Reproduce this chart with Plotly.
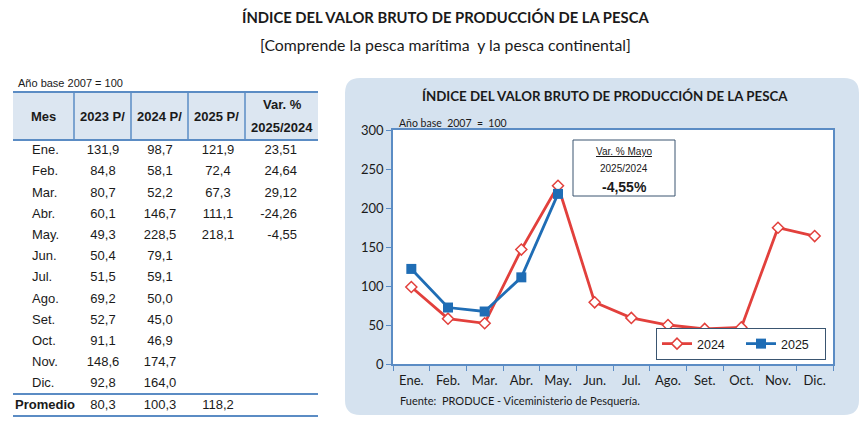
import plotly.graph_objects as go

# datos del cuadro (Año base 2007 = 100)
meses = ["Ene.", "Feb.", "Mar.", "Abr.", "May.", "Jun.", "Jul.", "Ago.", "Set.", "Oct.", "Nov.", "Dic."]
v2023 = [131.9, 84.8, 80.7, 60.1, 49.3, 50.4, 51.5, 69.2, 52.7, 91.1, 148.6, 92.8]
v2024 = [98.7, 58.1, 52.2, 146.7, 228.5, 79.1, 59.1, 50.0, 45.0, 46.9, 174.7, 164.0]
v2025 = [121.9, 72.4, 67.3, 111.1, 218.1]
var_25_24 = [23.51, 24.64, 29.12, -24.26, -4.55]
promedio = [80.3, 100.3, 118.2]
encabezado = ["Mes", "2023 P/", "2024 P/", "2025 P/"]
var_mayo = -4.55

W, H = 867, 432
OFF = 8  # margen del body de la pagina
ROJO = "#e2403c"
AZUL = "#1f6db5"
LINEA_TABLA = "#5b8cc4"
TXT = "#1a1a1a"
ARIAL = "Liberation Sans, Arial, sans-serif"
CALIBRI = "Lato, Carlito, Calibri, sans-serif"


def px(x):
    return (x - OFF) / W


def py(y):
    return 1 - (y - OFF) / H


def fmt(v, d=1):
    return f"{v:.{d}f}".replace(".", ",")


def caja_redondeada(x0, y0, x1, y1, r):
    rx, ry = r / W, r / H
    a0, a1, b0, b1 = px(x0), px(x1), py(y1), py(y0)
    return (f"M {a0 + rx},{b0} L {a1 - rx},{b0} Q {a1},{b0} {a1},{b0 + ry} "
            f"L {a1},{b1 - ry} Q {a1},{b1} {a1 - rx},{b1} "
            f"L {a0 + rx},{b1} Q {a0},{b1} {a0},{b1 - ry} "
            f"L {a0},{b0 + ry} Q {a0},{b0} {a0 + rx},{b0} Z")


fig = go.Figure()

# ---- grafico ----
fig.add_trace(go.Scatter(
    x=meses, y=v2024, name="2024", mode="lines+markers",
    line=dict(color=ROJO, width=2.8),
    marker=dict(symbol="diamond", size=8.5, color="white", line=dict(color=ROJO, width=1.5)),
))
fig.add_trace(go.Scatter(
    x=meses[:len(v2025)], y=v2025, name="2025", mode="lines+markers",
    line=dict(color=AZUL, width=2.8),
    marker=dict(symbol="square", size=10, color=AZUL),
))

# ---- tabla (ejes invisibles) ----
filas = meses + ["Promedio"]
tabla = dict(xaxis="x2", yaxis="y2", mode="text", showlegend=False, hoverinfo="skip",
             textfont=dict(family=ARIAL, size=13, color=TXT))
fig.add_trace(go.Scatter(x=[32] * len(meses), y=meses, text=meses, textposition="middle right", **tabla))
fig.add_trace(go.Scatter(x=[103] * len(meses), y=meses, text=[fmt(v) for v in v2023], textposition="middle center", **tabla))
fig.add_trace(go.Scatter(x=[160] * len(meses), y=meses, text=[fmt(v) for v in v2024], textposition="middle center", **tabla))
fig.add_trace(go.Scatter(x=[218] * len(v2025), y=meses[:len(v2025)], text=[fmt(v) for v in v2025], textposition="middle center", **tabla))
fig.add_trace(go.Scatter(x=[297] * len(var_25_24), y=meses[:len(var_25_24)], text=[fmt(v, 2) for v in var_25_24], textposition="middle left", **tabla))
fig.add_trace(go.Scatter(x=[15], y=["Promedio"], text=["<b>Promedio</b>"], textposition="middle right", **tabla))
fig.add_trace(go.Scatter(x=[103, 160, 218], y=["Promedio"] * 3, text=[fmt(v) for v in promedio], textposition="middle center", **tabla))

shapes = [
    dict(type="path", path=caja_redondeada(345, 78, 859, 415, 15), xref="paper", yref="paper",
         fillcolor="#d5e2ef", line=dict(width=0), layer="below"),
    dict(type="rect", xref="paper", yref="paper", x0=px(393), x1=px(833), y0=py(364), y1=py(130),
         fillcolor="white", line=dict(width=0), layer="below"),
    dict(type="rect", xref="paper", yref="paper", x0=px(13), x1=px(318), y0=py(140), y1=py(92),
         fillcolor="#dce6f1", line=dict(width=0), layer="below"),
    dict(type="rect", xref="paper", yref="paper", x0=px(573), x1=px(675), y0=py(196), y1=py(140),
         fillcolor="white", line=dict(color="#3a5570", width=1)),
]
for yl in [92, 140, 394, 416]:
    shapes.append(dict(type="line", xref="paper", yref="paper", x0=px(13), x1=px(318), y0=py(yl), y1=py(yl),
                       line=dict(color=LINEA_TABLA, width=2)))
for xl in [74, 131, 188, 245]:
    shapes.append(dict(type="line", xref="paper", yref="paper", x0=px(xl), x1=px(xl), y0=py(140), y1=py(92),
                       line=dict(color=LINEA_TABLA, width=1.5)))

annotations = [
    dict(text="<b>ÍNDICE DEL VALOR BRUTO DE PRODUCCIÓN DE LA PESCA</b>", x=px(445), y=py(17),
         font=dict(family=CALIBRI, size=14.8, color=TXT)),
    dict(text="[Comprende la pesca marítima  y la pesca continental]", x=px(445), y=py(44),
         font=dict(family=CALIBRI, size=15.8, color=TXT)),
    dict(text="Año base 2007 = 100", x=px(16), y=py(83), xanchor="left",
         font=dict(family=ARIAL, size=11, color=TXT)),
    dict(text="<b>ÍNDICE DEL VALOR BRUTO DE PRODUCCIÓN DE LA PESCA</b>", x=px(605), y=py(96),
         font=dict(family=CALIBRI, size=13.3, color=TXT)),
    dict(text="Año base  2007  =  100", x=px(397), y=py(123), xanchor="left",
         font=dict(family=CALIBRI, size=10.5, color=TXT)),
    dict(text="Fuente:  PRODUCE - Viceministerio de Pesquería.", x=px(398), y=py(400), xanchor="left",
         font=dict(family=CALIBRI, size=11, color=TXT)),
    dict(text="<u>Var. % Mayo</u>", x=px(624), y=py(151), font=dict(family=ARIAL, size=10, color=TXT)),
    dict(text="2025/2024", x=px(624), y=py(168), font=dict(family=ARIAL, size=10, color=TXT)),
    dict(text=f"<b>{fmt(var_mayo, 2)}%</b>", x=px(624), y=py(187), font=dict(family=ARIAL, size=14, color=TXT)),
]
cab_x = [43, 102, 159, 216]
for t, xc in zip(encabezado, cab_x):
    annotations.append(dict(text=f"<b>{t}</b>", x=px(xc), y=py(116), font=dict(family=ARIAL, size=13, color=TXT)))
annotations.append(dict(text="<b>Var. %</b>", x=px(282), y=py(104), font=dict(family=ARIAL, size=13, color=TXT)))
annotations.append(dict(text="<b>2025/2024</b>", x=px(282), y=py(127), font=dict(family=ARIAL, size=13, color=TXT)))
for a in annotations:
    a.update(xref="paper", yref="paper", showarrow=False)
    a.setdefault("xanchor", "center")
    a.setdefault("yanchor", "middle")

fila0, paso = 151 - OFF, 21.2

fig.update_layout(
    width=W, height=H,
    margin=dict(l=0, r=0, t=0, b=0, pad=0, autoexpand=False),
    paper_bgcolor="white",
    plot_bgcolor="rgba(0,0,0,0)",
    shapes=shapes,
    annotations=annotations,
    xaxis=dict(domain=[px(393), px(833)], type="category", categoryorder="array", categoryarray=meses,
               range=[-0.5, len(meses) - 0.5],
               tickson="boundaries", ticks="outside", ticklen=5, tickcolor=LINEA_TABLA, tickangle=0,
               ticklabelstandoff=4,
               showline=True, linecolor=LINEA_TABLA, linewidth=1.5, mirror=True, showgrid=False,
               tickfont=dict(family=CALIBRI, size=13, color=TXT), automargin=False),
    yaxis=dict(domain=[py(364), py(130)], range=[0, 300], dtick=50, ticks="outside", ticklen=5,
               tickcolor=LINEA_TABLA, showline=True, linecolor=LINEA_TABLA, linewidth=1.5, mirror=True,
               showgrid=False, zeroline=False, tickfont=dict(family=CALIBRI, size=13, color=TXT),
               automargin=False),
    xaxis2=dict(domain=[0, 330 / W], range=[OFF, 330 + OFF], visible=False, anchor="y2"),
    yaxis2=dict(domain=[0, 1], type="category", categoryorder="array", categoryarray=filas,
                range=[(H - fila0) / paso, -fila0 / paso], visible=False, anchor="x2"),
    legend=dict(orientation="h", x=px(826), xanchor="right", y=py(360), yanchor="bottom",
                bgcolor="white", bordercolor="#3a5570", borderwidth=1, entrywidth=39,
                font=dict(family=ARIAL, size=12.5, color=TXT)),
)

fig.write_html("out.html")
